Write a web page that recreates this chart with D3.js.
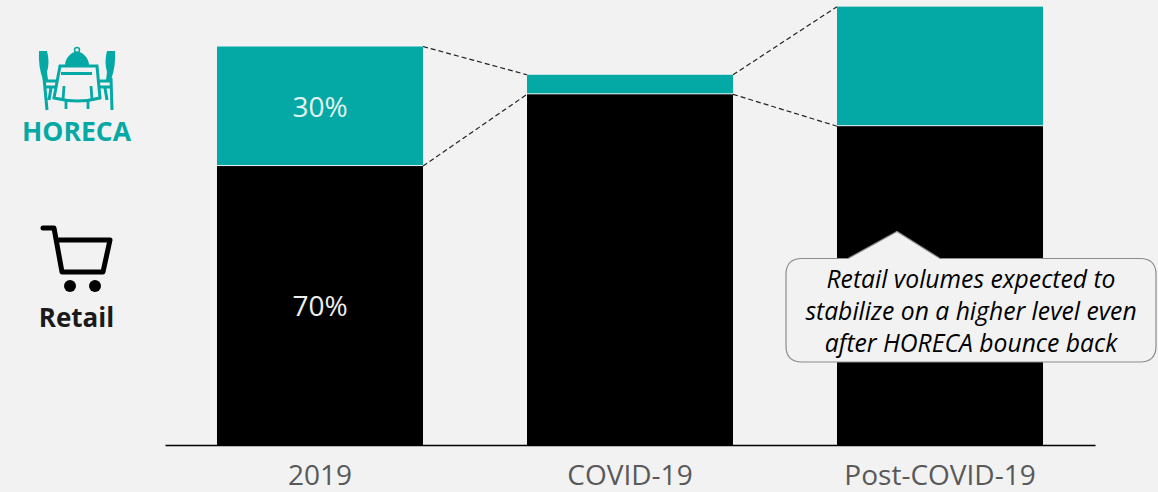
<!DOCTYPE html>
<html><head><meta charset="utf-8">
<script src="https://cdn.jsdelivr.net/npm/d3@7/dist/d3.min.js"></script>
<style>html,body{margin:0;padding:0;background:#f2f2f2;overflow:hidden}svg{display:block}text{font-family:"Open Sans",sans-serif}</style>
</head><body><svg id="c" width="1158" height="492"></svg>
<script>
const categories = ["2019","COVID-19","Post-COVID-19"];
const retail = [70,88,80];
const horeca = [30,4.9,30];
const segmentLabels = {retail:["70%",null,null],horeca:["30%",null,null]};
const calloutLines = ["Retail volumes expected to","stabilize on a higher level even","after HORECA bounce back"];
const teal="#04a9a5", grey="#595959";

const svg=d3.select("#c");
const x=d3.scaleBand().domain(categories).range([165,1095]).paddingInner(0.3355).paddingOuter(0.1677);
const y=d3.scaleLinear().domain([0,100]).range([445,46.5]);
const bw=x.bandwidth();

// connectors
const conn=svg.append("g").attr("fill","none").attr("stroke","#222").attr("stroke-width",1.2).attr("stroke-dasharray","5 3");
for(let i=0;i<categories.length-1;i++){
  const x1=x(categories[i])+bw,x2=x(categories[i+1]);
  conn.append("line").attr("x1",x1).attr("x2",x2).attr("y1",y(retail[i]+horeca[i])).attr("y2",y(retail[i+1]+horeca[i+1]));
  conn.append("line").attr("x1",x1).attr("x2",x2).attr("y1",y(retail[i])).attr("y2",y(retail[i+1]));
}
// bars
svg.append("g").selectAll("rect").data(categories).join("rect")
  .attr("x",d=>x(d)).attr("width",bw)
  .attr("y",(d,i)=>y(retail[i])).attr("height",(d,i)=>y(0)-y(retail[i]))
  .attr("fill","#000");
svg.append("g").selectAll("rect").data(categories).join("rect")
  .attr("x",d=>x(d)).attr("width",bw)
  .attr("y",(d,i)=>y(retail[i]+horeca[i])).attr("height",(d,i)=>y(retail[i])-y(retail[i]+horeca[i])-1)
  .attr("fill",teal);
// bar labels
categories.forEach((c,i)=>{
  if(segmentLabels.retail[i]) svg.append("text").attr("x",x(c)+bw/2).attr("y",y(retail[i]/2)+10.5)
    .attr("text-anchor","middle").attr("font-size",28).attr("fill","#eeeeee").text(segmentLabels.retail[i]);
  if(segmentLabels.horeca[i]) svg.append("text").attr("x",x(c)+bw/2).attr("y",y(retail[i]+horeca[i]/2)+10.5)
    .attr("text-anchor","middle").attr("font-size",28).attr("fill","#e4f2f1").text(segmentLabels.horeca[i]);
});
// axis
const ax=svg.append("g").attr("transform","translate(0,445)").call(d3.axisBottom(x).tickSize(0).tickPadding(20));
ax.select(".domain").attr("stroke","#000").attr("stroke-width",1.5);
ax.selectAll("text").attr("font-size",28).attr("fill",grey).attr("font-family",'"Open Sans",sans-serif');

// callout
svg.append("path").attr("fill","#f2f2f2").attr("stroke","#8c8c8c").attr("stroke-width",1.2)
 .attr("d","M802,258.5 H848 L897,231.5 L940,258.5 H1140 Q1156,258.5 1156,274.5 V346 Q1156,362 1140,362 H802 Q786,362 786,346 V274.5 Q786,258.5 802,258.5 Z");
calloutLines.forEach((t,i)=>svg.append("text").attr("x",971).attr("y",288+i*32)
  .attr("text-anchor","middle").attr("font-size",24.7).attr("font-style","italic").attr("fill","#000").text(t));

// HORECA icon
const h=svg.append("g").attr("fill",teal).attr("stroke","none");
h.append("path").attr("d","M65,65.5 C65,58 71,52 77,51.5 C83,52 89,58 89,65.5 Z");
h.append("circle").attr("cx",77).attr("cy",50).attr("r",2.5).attr("fill","none").attr("stroke",teal).attr("stroke-width",1.5);
h.append("path").attr("fill","none").attr("stroke",teal).attr("stroke-width",3)
 .attr("d","M60,66 H97 L100,98 Q78,104 54,98 Z");
h.append("rect").attr("x",61).attr("y",72).attr("width",31).attr("height",3);
h.append("path").attr("fill","none").attr("stroke",teal).attr("stroke-width",2.8)
 .attr("d","M64,86 L63,100 M91,86 L92,100 M66,101 V109 M88,101 V109");
h.append("path").attr("d","M39,51 H47 Q50,62 47,72 L48,80 H43 Q38,66 39,51 Z M115,51 H107 Q104,62 107,72 L106,80 H111 Q116,66 115,51 Z");
h.append("path").attr("fill","none").attr("stroke",teal).attr("stroke-width",3)
 .attr("d","M44,78 L47,110 M45,81 H56 M45,87 H56 M111,78 L112,110 M100,81 H111 M100,87 H111 M51,88 L49,100 M105,88 L107,100");
svg.append("text").attr("x",76.5).attr("y",141).attr("text-anchor","middle").attr("font-size",26.5).attr("font-weight",700).attr("fill",teal).text("HORECA");

// Retail icon
const r=svg.append("g");
r.append("path").attr("fill","none").attr("stroke","#000").attr("stroke-width",5).attr("stroke-linecap","round").attr("stroke-linejoin","round")
 .attr("d","M43,228 H54 L62,272 H103 L110,240 H57");
r.append("circle").attr("cx",70).attr("cy",286).attr("r",6);
r.append("circle").attr("cx",95).attr("cy",286).attr("r",6);
svg.append("text").attr("x",76.5).attr("y",327).attr("text-anchor","middle").attr("font-size",26).attr("font-weight",700).attr("fill","#1a1a1a").text("Retail");
</script></body></html>
